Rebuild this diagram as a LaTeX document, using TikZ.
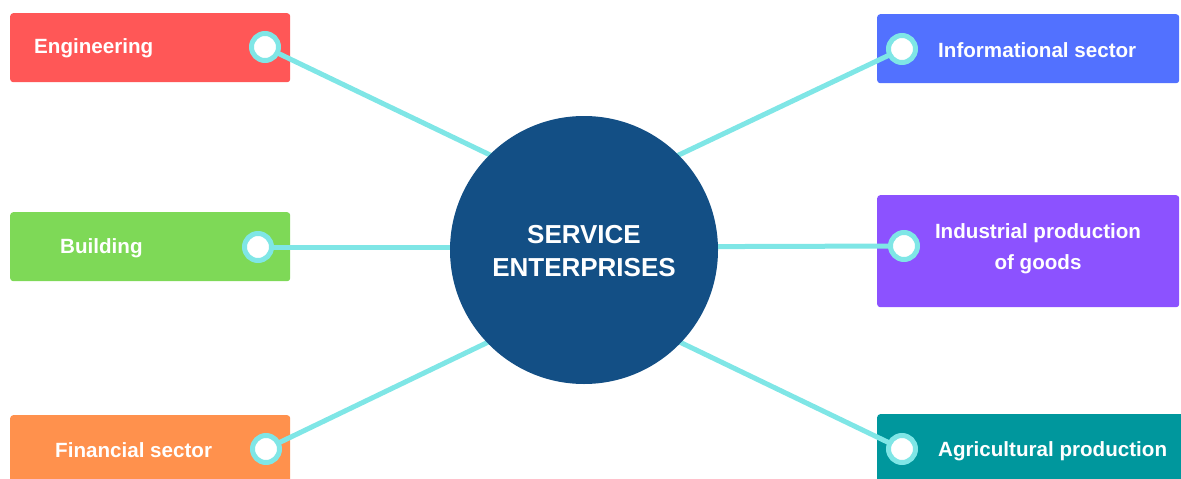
\documentclass[tikz,border=0pt]{standalone}
\usepackage{fontspec}
\setmainfont{Liberation Sans}
\begin{document}
\begin{tikzpicture}[x=1pt,y=-1pt,
  box/.style={draw=none, rounded corners=3pt, minimum height=69pt, anchor=north west},
  lbl/.style={text=white, font=\bfseries\fontsize{20.6}{24}\selectfont, anchor=west, inner sep=0pt},
  dot/.style={circle, draw=linkc, line width=5pt, fill=white, minimum size=27pt, inner sep=0pt},
  link/.style={draw=linkc, line width=5pt}]
\definecolor{linkc}{HTML}{7FE6E6}
\definecolor{cred}{HTML}{FF5757}
\definecolor{cgreen}{HTML}{7ED957}
\definecolor{corange}{HTML}{FF914D}
\definecolor{cblue}{HTML}{5271FF}
\definecolor{cpurple}{HTML}{8C52FF}
\definecolor{cteal}{HTML}{00979D}
\definecolor{cnavy}{HTML}{134F85}
\useasboundingbox (0,0) rectangle (1181,479);
\clip (0,0) rectangle (1181,479);
% boxes
\node[box, fill=cred, minimum width=280pt] (b1) at (10,13) {};
\node[box, fill=cgreen, minimum width=280pt] (b2) at (10,212) {};
\node[box, fill=corange, minimum width=280pt, minimum height=80pt] (b3) at (10,415) {};
\node[box, fill=cblue, minimum width=302pt] (b4) at (877,14) {};
\node[box, fill=cpurple, minimum width=302pt, minimum height=112pt] (b5) at (877,195) {};
\node[box, fill=cteal, minimum width=310pt, minimum height=80pt] (b6) at (877,414) {};
% dots (positions)
\coordinate (d1) at (265,47);
\coordinate (d2) at (258,247);
\coordinate (d3) at (266,449);
\coordinate (d4) at (902,49);
\coordinate (d5) at (904,246);
\coordinate (d6) at (902,449);
\coordinate (c) at (584,250);
\coordinate (ctop) at (584,200);
\coordinate (cmid) at (584,247);
\coordinate (cbot) at (584,296);
% links
\draw[link] (d1) -- (ctop);
\draw[link] (d4) -- (ctop);
\draw[link] (d2) -- (cmid);
\draw[link] (d5) -- (cmid);
\draw[link] (d3) -- (cbot);
\draw[link] (d6) -- (cbot);
% center
\node[circle, fill=cnavy, minimum size=268pt, inner sep=0pt] (center) at (c) {};
\node[text=white, font=\bfseries\fontsize{26}{33}\selectfont, align=center] (ct) at (584,251) {SERVICE\\ENTERPRISES};
% dots
\foreach \d in {d1,d2,d3,d4,d5,d6} \node[dot] (n\d) at (\d) {};
% labels
\node[lbl] (t1) at (34,48) {Engineering};
\node[lbl] (t2) at (60,248) {Building};
\node[lbl] (t3) at (55,450) {Financial sector};
\node[lbl] (t4) at (938,50) {Informational sector};
\node[text=white, font=\bfseries\fontsize{20.6}{31}\selectfont, align=center, inner sep=0pt] (t5) at (1038,249) {Industrial production\\of goods};
\node[lbl] (t6) at (938,451) {Agricultural production};
\end{tikzpicture}
\end{document}
